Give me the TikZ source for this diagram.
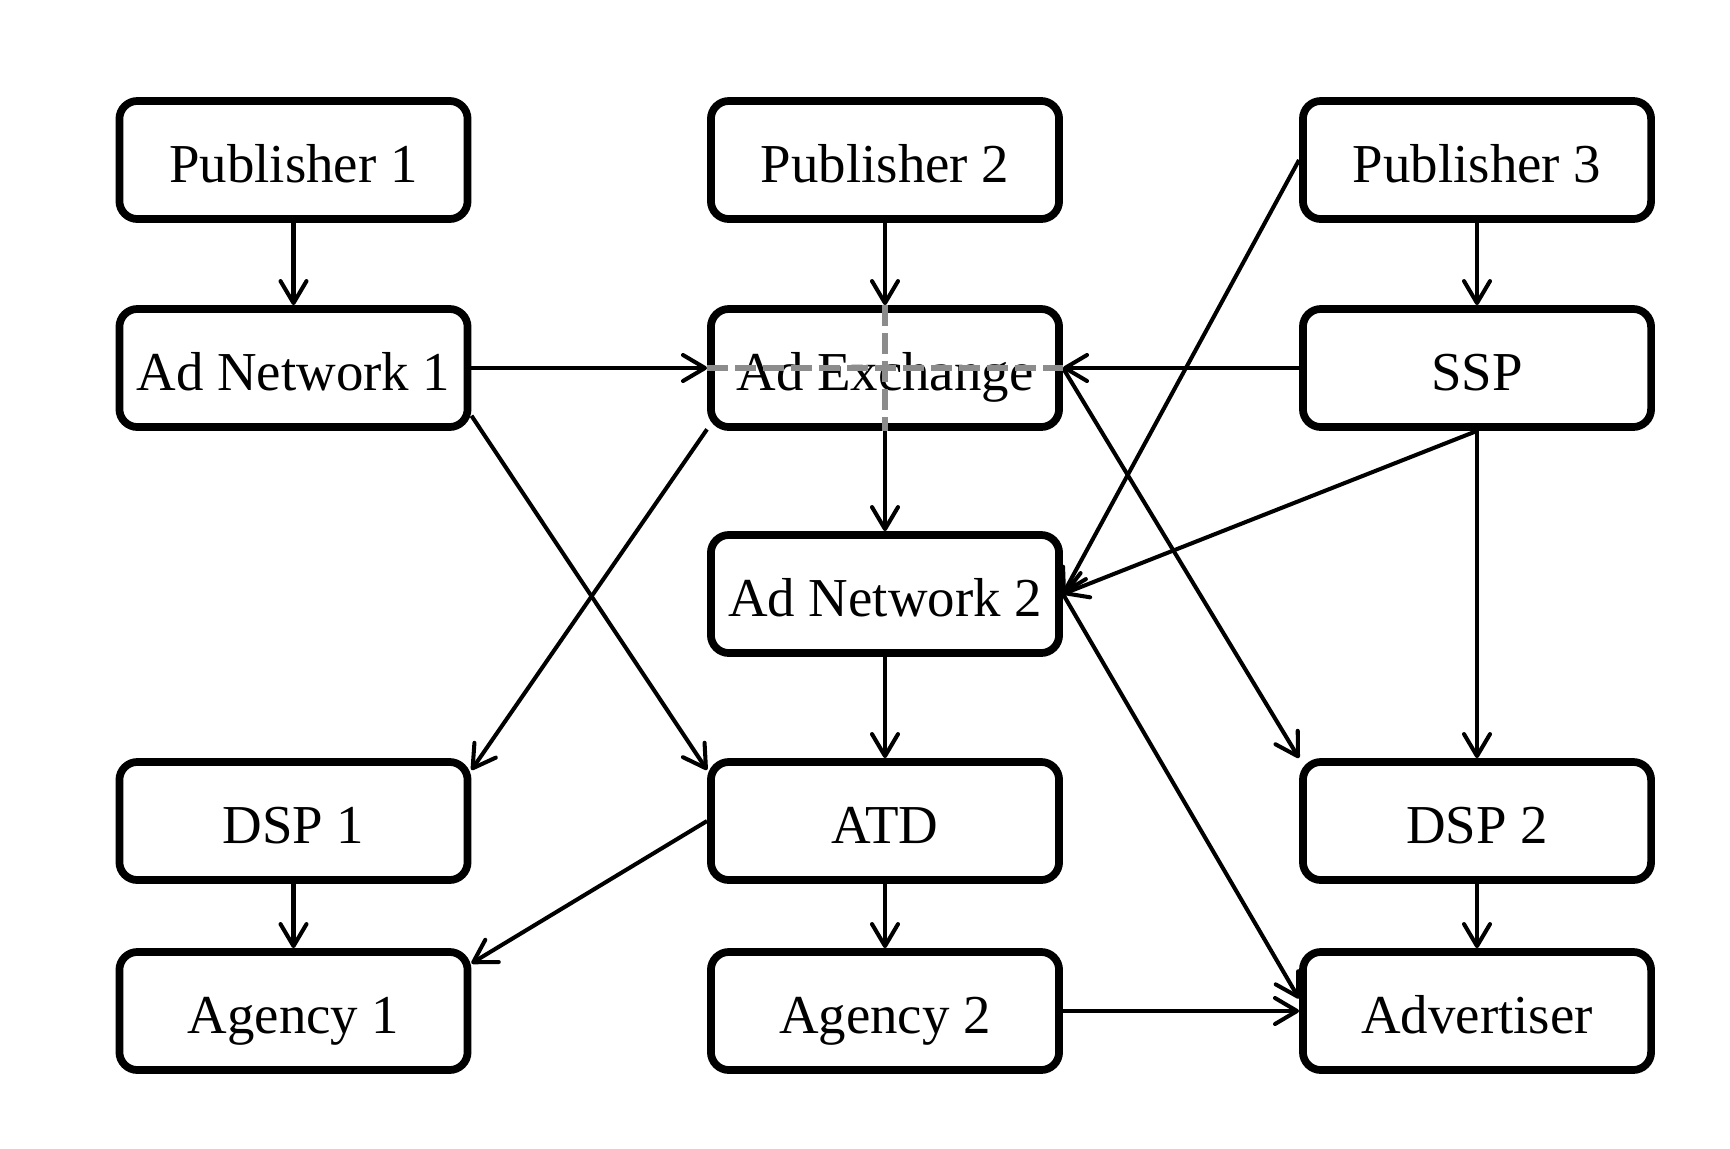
\documentclass[tikz,border=0pt]{standalone}
\usepackage{fontspec}
\setmainfont{Liberation Serif}
\usetikzlibrary{arrows.meta}
\definecolor{dgray}{RGB}{140,140,140}
\begin{document}
\begin{tikzpicture}[x=0.01cm,y=-0.01cm,
  box/.style={draw, line width=2.2pt, rounded corners=0.18cm, minimum width=3.48cm,
    minimum height=1.18cm, inner sep=0pt, fill=white,
    font=\fontsize{15.6pt}{19pt}\selectfont, text height=13pt, text depth=0pt},
  arr/.style={line width=1.15pt, -{Straight Barb[length=2.2mm,width=2.6mm,round]}},
  gdash/.style={draw=dgray, line width=1.7pt, dash pattern=on 0.21cm off 0.07cm}]
\useasboundingbox[fill=white] (0,0) rectangle (1730,1148);
% nodes
\node[box] (p1) at (293.5,160) {Publisher 1};
\node[box] (p2) at (885,160) {Publisher 2};
\node[box] (p3) at (1477,160) {Publisher 3};
\node[box] (an1) at (293.5,368) {Ad Network 1};
\node[box] (adex) at (885,368) {Ad Exchange};
\node[box] (ssp) at (1477,368) {SSP};
\node[box] (an2) at (885,594) {Ad Network 2};
\node[box] (dsp1) at (293.5,821) {DSP 1};
\node[box] (atd) at (885,821) {ATD};
\node[box] (dsp2) at (1477,821) {DSP 2};
\node[box] (ag1) at (293.5,1011) {Agency 1};
\node[box] (ag2) at (885,1011) {Agency 2};
\node[box] (adv) at (1477,1011) {Advertiser};
% connectors
\draw[arr] (p1) -- (an1);
\draw[arr] (p2) -- (adex);
\draw[arr] (p3) -- (ssp);
\draw[arr] (an1) -- (adex);
\draw[arr] (ssp) -- (adex);
\draw[arr] (p3.west) -- (an2.east);
\draw[arr] (ssp.south) -- (an2.east);
\draw[arr] (ssp) -- (dsp2);
\draw[arr] (adex) -- (an2);
\draw[arr] (adex.-161) -- (dsp1.16);
\draw[arr] (an1.-15) -- (atd.164);
\draw[arr] (adex.east) -- (dsp2.north west);
\draw[arr] (an2.east) -- (adv.176);
\draw[arr] (an2) -- (atd);
\draw[arr] (atd) -- (ag2);
\draw[arr] (dsp1) -- (ag1);
\draw[arr] (atd.west) -- (ag1.15);
\draw[arr] (dsp2) -- (adv);
\draw[arr] (ag2) -- (adv);
% dashed cross
\draw[gdash] (adex.west) -- (adex.east);
\draw[gdash] (adex.north) -- (adex.south);
\end{tikzpicture}
\end{document}
